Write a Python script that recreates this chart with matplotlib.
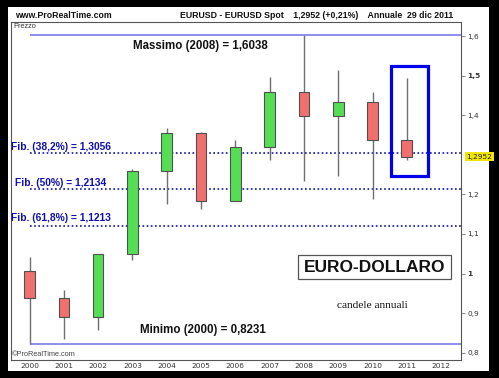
import matplotlib
matplotlib.use("Agg")
import matplotlib.pyplot as plt
from matplotlib.patches import Rectangle

# ---- data ----
years = [2000, 2001, 2002, 2003, 2004, 2005, 2006, 2007, 2008, 2009, 2010, 2011]
opens = [1.0070, 0.9388, 0.8904, 1.0487, 1.2597, 1.3554, 1.1844, 1.3197, 1.4589, 1.3973, 1.4321, 1.3364]
highs = [1.0414, 0.9594, 1.0498, 1.2647, 1.3666, 1.3584, 1.3367, 1.4967, 1.6038, 1.5144, 1.4579, 1.4939]
lows = [0.8231, 0.8344, 0.8565, 1.0336, 1.1759, 1.1640, 1.1827, 1.2867, 1.2330, 1.2457, 1.1876, 1.2860]
closes = [0.9388, 0.8904, 1.0487, 1.2597, 1.3554, 1.1844, 1.3197, 1.4589, 1.3973, 1.4321, 1.3364, 1.2952]
fib_levels = [1.3056, 1.2134, 1.1213]
fib_labels = ["Fib. (38,2%) = 1,3056", "Fib. (50%) = 1,2134", "Fib. (61,8%) = 1,1213"]
max_val = 1.6038
min_val = 0.8231
last_price = 1.2952
ytick_vals = [0.8, 0.9, 1.0, 1.1, 1.2, 1.4, 1.5, 1.6]
ytick_labels = ["0,8", "0,9", "1", "1,1", "1,2", "1,4", "1,5", "1,6"]
xtick_vals = list(range(2000, 2013))

W, H = 499, 378
fig = plt.figure(figsize=(W / 100, H / 100), dpi=100, facecolor="black")

# white inner panel
fig.patches.append(Rectangle((8 / W, 1 - 371 / H), (489 - 8) / W, (371 - 7) / H,
                             transform=fig.transFigure, facecolor="white",
                             edgecolor="none", zorder=-10))

ax_l, ax_r, ax_t, ax_b = 11, 461, 22, 360
ax = fig.add_axes([ax_l / W, 1 - ax_b / H, (ax_r - ax_l) / W, (ax_b - ax_t) / H])
ax.set_zorder(1)
ax.set_facecolor("white")
ax.set_xlim(1999.46, 2012.58)
ax.set_ylim(0.7816, 1.6354)
for s in ax.spines.values():
    s.set_color("#555555")
    s.set_linewidth(0.8)

# header texts
hdr = dict(fontsize=6.3, family="Liberation Sans", fontweight="bold", color="#111111", va="center")
fig.text(15 / W, 1 - 15 / H, "www.ProRealTime.com", **hdr)
fig.text(180 / W, 1 - 15 / H, "EURUSD - EURUSD Spot    1,2952 (+0,21%)    Annuale  29 dic 2011", **hdr)
fig.text(13 / W, 1 - 27 / H, "Prezzo", fontsize=5.3, family="Liberation Sans", color="#333333",
         va="center", zorder=5)
fig.text(12 / W, 1 - 355 / H, "\u00a9ProRealTime.com", fontsize=5.3, family="Liberation Sans",
         color="#444444", va="center", zorder=5)

# max/min lines
x_right = ax.get_xlim()[1]
ax.hlines([max_val, min_val], years[0], x_right, colors="#7070E8", linewidth=1.1, zorder=2)
# fib lines
ax.hlines(fib_levels, years[0], x_right, colors="#1010B0", linewidth=1.2,
          linestyles=(0, (1, 1.5)), zorder=2)

# candles
body_w = 0.31
for yr, o, h, l, c in zip(years, opens, highs, lows, closes):
    ax.vlines(yr, l, h, colors="#707070", linewidth=1.0, zorder=3)
    col = "#55DD55" if c >= o else "#F07070"
    ax.bar(yr, abs(c - o), width=body_w, bottom=min(o, c), color=col,
           edgecolor="#505050", linewidth=0.8, zorder=4)

# highlight rectangle around last candle
ax.add_patch(Rectangle((2010.54, 1.247), 1.09, 0.277, fill=False, edgecolor="#0000EE",
                       linewidth=2.3, zorder=5))

# annotations
ax.text(2004.97, 1.575, "Massimo (2008) = 1,6038", ha="center", va="center", fontsize=8.3,
        fontweight="bold", family="Liberation Sans", color="#111111", zorder=6)
ax.text(2005.06, 0.857, "Minimo (2000) = 0,8231", ha="center", va="center", fontsize=8.3,
        fontweight="bold", family="Liberation Sans", color="#111111", zorder=6)
fib_x = [1999.47, 1999.59, 1999.47]
fib_y = [1.3196, 1.2287, 1.1403]
for fx, fy, lab in zip(fib_x, fib_y, fib_labels):
    ax.text(fx, fy, lab, ha="left", va="center", fontsize=7.4, fontweight="bold",
            family="Liberation Sans", color="#1010B0", zorder=6, clip_on=False)

ax.add_patch(Rectangle((2007.82, 0.9855), 4.46, 0.0613, fill=False, edgecolor="#555555",
                       linewidth=0.9, zorder=6))
ax.text(2010.05, 1.0165, "EURO-DOLLARO", ha="center", va="center", fontsize=12.5,
        fontweight="bold", family="Liberation Sans", color="#111111", zorder=7)
ax.text(2010.01, 0.9205, "candele annuali", ha="center", va="center", fontsize=8.2,
        family="Liberation Serif", color="#111111", zorder=7)

# axes ticks
ax.yaxis.tick_right()
ax.set_yticks(ytick_vals)
ax.set_yticklabels(ytick_labels)
ax.tick_params(axis="y", length=3, width=0.6, color="#777777", labelsize=5.3,
               labelcolor="#333333", pad=1.5)
for t in ax.get_yticklabels():
    if t.get_text() in ("1,5", "1"):
        t.set_fontweight("bold")
ax.set_xticks(xtick_vals)
ax.set_xticklabels([str(v) for v in xtick_vals])
ax.tick_params(axis="x", length=0, labelsize=5.3, labelcolor="#333333", pad=2.5)

# last price highlight
ax.annotate("1,2952", xy=(1.0, last_price), xycoords=("axes fraction", "data"),
            xytext=(4, 0), textcoords="offset points", ha="left", va="center",
            fontsize=5.3, color="#222222",
            bbox=dict(boxstyle="square,pad=0.2", facecolor="#F2E600", edgecolor="none"))

fig.savefig("out.png", dpi=100, facecolor="black")
